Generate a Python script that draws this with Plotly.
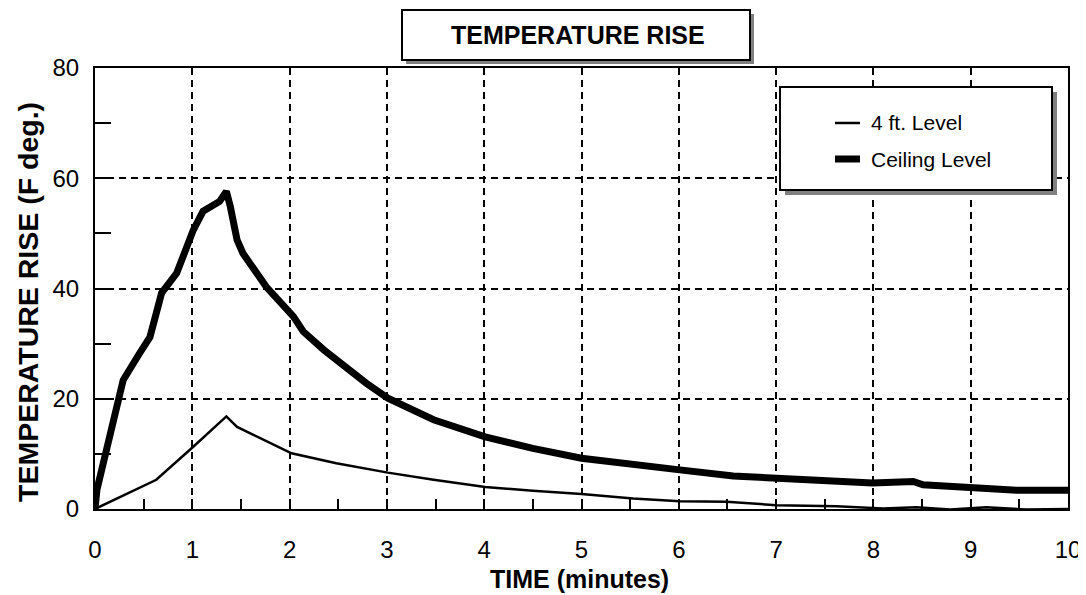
import plotly.graph_objects as go

# ---- data ----
ceiling_t = [0, 0.02, 0.085, 0.19, 0.29, 0.46, 0.565, 0.685, 0.84, 1.01, 1.11, 1.28, 1.35, 1.39,
             1.46, 1.52, 1.76, 2.04, 2.14, 2.35, 2.52, 2.79, 3.01, 3.48, 4.01, 4.5, 5.0, 5.53,
             6.01, 6.56, 7.02, 7.55, 7.99, 8.41, 8.51, 8.99, 9.47, 10.0]
ceiling_v = [0, 3.5, 8.3, 16.2, 23.4, 28.3, 31.2, 39.2, 42.8, 50.6, 54.0, 55.8, 57.6, 54.9,
             48.8, 46.4, 40.3, 34.9, 32.2, 28.9, 26.4, 22.8, 20.1, 16.2, 13.1, 11.0, 9.2, 8.0,
             7.1, 6.0, 5.6, 5.3, 4.7, 5.0, 4.4, 3.9, 3.4, 3.4]

four_t = [0, 0.63, 1.01, 1.35, 1.46, 2.02, 2.48, 3.01, 3.48, 4.01, 4.5, 5.0, 5.53, 6.01,
          6.49, 7.0, 7.62, 8.1, 8.44, 8.79, 9.16, 9.57, 10.0]
four_v = [0, 5.3, 11.3, 16.8, 14.9, 10.1, 8.3, 6.6, 5.3, 4.0, 3.3, 2.7, 1.9, 1.4,
          1.3, 0.7, 0.5, 0.1, 0.3, -0.1, 0.3, -0.1, 0.0]

series_names = ["4 ft. Level", "Ceiling Level"]
x_ticks = list(range(0, 11))
y_ticks = [0, 20, 40, 60, 80]

title_text = "TEMPERATURE RISE"
x_title = "TIME (minutes)"
y_title = "TEMPERATURE RISE (F deg.)"

# ---- layout geometry (page pixels; the page body adds an 8px offset) ----
OFF = 8
W, H = 1086 - OFF, 595 - OFF
L, R, T, B = 95, 1068, 68, 509   # plot area in page pixels
FONT = "Arial, Liberation Sans, sans-serif"


def px_x(p):
    return (p - L) / (R - L)


def px_y(p):
    return (B - p) / (B - T)


fig = go.Figure()
fig.add_trace(go.Scatter(x=four_t, y=four_v, mode="lines", name=series_names[0],
                         line=dict(color="black", width=2.5), showlegend=False))
fig.add_trace(go.Scatter(x=ceiling_t, y=ceiling_v, mode="lines", name=series_names[1],
                         line=dict(color="black", width=7), showlegend=False))

shapes = []


def box(x0, y0, x1, y1, shadow=4):
    shapes.append(dict(type="rect", xref="paper", yref="paper", layer="above",
                       x0=px_x(x0 + shadow), x1=px_x(x1 + shadow),
                       y0=px_y(y0 + shadow), y1=px_y(y1 + shadow),
                       fillcolor="#808080", line=dict(width=0)))
    shapes.append(dict(type="rect", xref="paper", yref="paper", layer="above",
                       x0=px_x(x0), x1=px_x(x1), y0=px_y(y0), y1=px_y(y1),
                       fillcolor="white", line=dict(color="black", width=2)))


# title box
box(402, 10, 750, 60)
# legend box
box(780, 87, 1052, 190, shadow=5)

annotations = [
    dict(text="<b>%s</b>" % title_text, xref="paper", yref="paper", x=px_x(578), y=px_y(35),
         showarrow=False, font=dict(family=FONT, size=25, color="black"),
         xanchor="center", yanchor="middle"),
    dict(text="<b>%s</b>" % x_title, xref="paper", yref="paper", x=px_x(579), y=px_y(579),
         showarrow=False, font=dict(family=FONT, size=25, color="black"),
         xanchor="center", yanchor="middle"),
    dict(text="<b>%s</b>" % y_title, xref="paper", yref="paper", x=px_x(28), y=px_y(302),
         showarrow=False, textangle=-90, font=dict(family=FONT, size=28.5, color="black"),
         xanchor="center", yanchor="middle"),
]

# custom legend entries
leg_rows = [(123, 2.5), (159, 7)]
for name, (yy, w) in zip(series_names, leg_rows):
    shapes.append(dict(type="line", xref="paper", yref="paper", layer="above",
                       x0=px_x(835), x1=px_x(860), y0=px_y(yy), y1=px_y(yy),
                       line=dict(color="black", width=w)))
    annotations.append(dict(text=name, xref="paper", yref="paper", x=px_x(869), y=px_y(yy),
                            showarrow=False, xanchor="left", yanchor="middle",
                            font=dict(family=FONT, size=21, color="black")))

fig.update_layout(
    width=W, height=H,
    margin=dict(l=L - OFF, r=(W + OFF) - R, t=T - OFF, b=(H + OFF) - B, pad=0),
    paper_bgcolor="white", plot_bgcolor="white",
    font=dict(family=FONT, color="black"),
    shapes=shapes, annotations=annotations,
    showlegend=False,
)

fig.update_xaxes(
    range=[0, 10], tickvals=x_ticks, ticktext=[str(v) for v in x_ticks],
    ticks="inside", ticklen=10, tickwidth=2, tickcolor="black",
    minor=dict(dtick=0.5, ticks="inside", ticklen=10, tickwidth=2, tickcolor="black", showgrid=False),
    showgrid=True, gridcolor="black", gridwidth=1.5, griddash="7px,5px",
    showline=True, linecolor="black", linewidth=2, mirror=True,
    zeroline=False, tickfont=dict(family=FONT, size=24, color="black"),
    ticklabelstandoff=18, automargin=False,
)
fig.update_yaxes(
    range=[0, 80], tickvals=y_ticks, ticktext=[str(v) for v in y_ticks],
    ticks="inside", ticklen=16, tickwidth=2, tickcolor="black",
    minor=dict(dtick=10, ticks="inside", ticklen=16, tickwidth=2, tickcolor="black", showgrid=False),
    showgrid=True, gridcolor="black", gridwidth=1.5, griddash="7px,5px",
    showline=True, linecolor="black", linewidth=2, mirror=True,
    zeroline=False, tickfont=dict(family=FONT, size=24, color="black"),
    ticklabelstandoff=9, automargin=False,
)

fig.write_html("out.html")
